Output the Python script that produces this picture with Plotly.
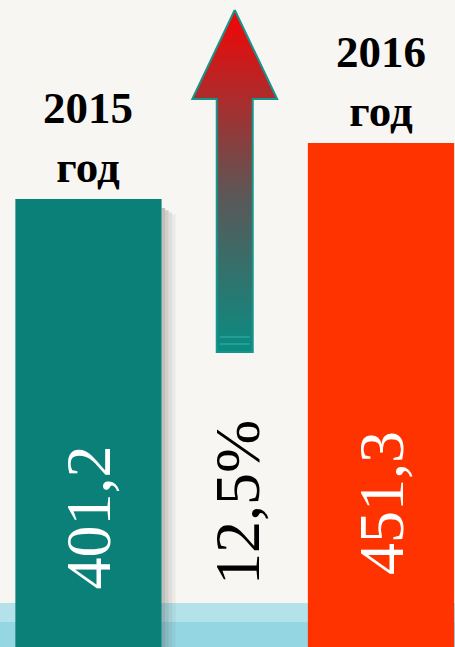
import plotly.graph_objects as go

# ---- data ----
years = ["2015", "2016"]
year_suffix = ["год", "год"]
values = [401.2, 451.3]
bar_colors = ["#0a8078", "#ff3300"]
x_pos = [0, 2]

growth = (values[1] / values[0] - 1) * 100  # ~12.5 %

def fmt(v, d=1):
    return f"{v:.{d}f}".replace(".", ",")

W, H = 455, 647
X_RANGE = [-0.605, 2.506]
Y_RANGE = [0, 579.4]

def px_x(px):
    return X_RANGE[0] + (X_RANGE[1] - X_RANGE[0]) * px / W

def px_y(py):
    return Y_RANGE[0] + (Y_RANGE[1] - Y_RANGE[0]) * (H - py) / H

fig = go.Figure()

# bars
fig.add_trace(go.Bar(
    x=x_pos, y=values, width=[1.0, 1.0],
    marker=dict(color=bar_colors, line=dict(width=0)),
    hoverinfo="skip", showlegend=False,
))

# growth arrow (decorative)
xc = 1.0
sh = 0.123   # shaft half width
hh = 0.29    # head half width
y_tip, y_head, y_bot = px_y(10), px_y(99), px_y(352)
ax = [xc, xc + hh, xc + sh, xc + sh, xc - sh, xc - sh, xc - hh, xc]
ay = [y_tip, y_head, y_head, y_bot, y_bot, y_head, y_head, y_tip]
fig.add_trace(go.Scatter(
    x=ax, y=ay, mode="lines", fill="toself",
    fillgradient=dict(type="vertical",
                      colorscale=[[0, "#0a8c82"], [0.45, "#5a5858"], [1, "#f50404"]]),
    line=dict(color="#15958b", width=2),
    hoverinfo="skip", showlegend=False,
))

shapes = []
# bottom light-blue strip
shapes.append(dict(type="rect", xref="paper", yref="y", x0=0, x1=1,
                   y0=Y_RANGE[0], y1=px_y(603), fillcolor="#b3e2ea",
                   line=dict(width=0), layer="below"))
shapes.append(dict(type="rect", xref="paper", yref="y", x0=0, x1=1,
                   y0=Y_RANGE[0], y1=px_y(622), fillcolor="#95d6e3",
                   line=dict(width=0), layer="below"))
# shadow of the 2015 bar
for i, op in enumerate([0.35, 0.25, 0.15, 0.07]):
    shapes.append(dict(type="rect", xref="x", yref="y",
                       x0=0.5 + i * 3.5 / 146.25, x1=0.5 + (i + 1) * 3.5 / 146.25,
                       y0=Y_RANGE[0], y1=values[0] - 8 - i * 2,
                       fillcolor=f"rgba(90,90,90,{op})", line=dict(width=0),
                       layer="below"))
# stripes at the base of the arrow shaft
for py in [337, 344]:
    shapes.append(dict(type="line", xref="x", yref="y",
                       x0=xc - sh + 0.02, x1=xc + sh - 0.02, y0=px_y(py), y1=px_y(py),
                       line=dict(color="#2aa69c", width=1.5)))

annotations = []
# year labels
for xp, yr, suf, v, yshift in zip(x_pos, years, year_suffix, values, [5, 5]):
    annotations.append(dict(
        x=xp, y=v, xref="x", yref="y", yanchor="bottom", yshift=yshift,
        text=f"<b>{yr}</b><br><b>{suf}</b>", showarrow=False,
        font=dict(family="Liberation Serif", size=45, color="#000000"),
        align="center",
    ))
# value labels (rotated)
for xp, v, pyc in zip(x_pos, values, [517, 503]):
    annotations.append(dict(
        x=xp, y=px_y(pyc), xref="x", yref="y", text=fmt(v), textangle=-90,
        showarrow=False,
        font=dict(family="Liberation Serif", size=64, color="#ffffff"),
    ))
# growth label
annotations.append(dict(
    x=px_x(237), y=px_y(503), xref="x", yref="y", text=fmt(growth) + "%",
    textangle=-90, showarrow=False,
    font=dict(family="Liberation Serif", size=64, color="#000000"),
))

fig.update_layout(
    width=W, height=H,
    margin=dict(l=0, r=0, t=0, b=0),
    paper_bgcolor="#f8f6f2", plot_bgcolor="#f8f6f2",
    xaxis=dict(range=X_RANGE, visible=False, fixedrange=True),
    yaxis=dict(range=Y_RANGE, visible=False, fixedrange=True),
    shapes=shapes, annotations=annotations,
    showlegend=False,
)

fig.write_html("out.html", config={"displayModeBar": False},
               post_script="document.body.style.margin='0';document.body.style.background='#f8f6f2';")
